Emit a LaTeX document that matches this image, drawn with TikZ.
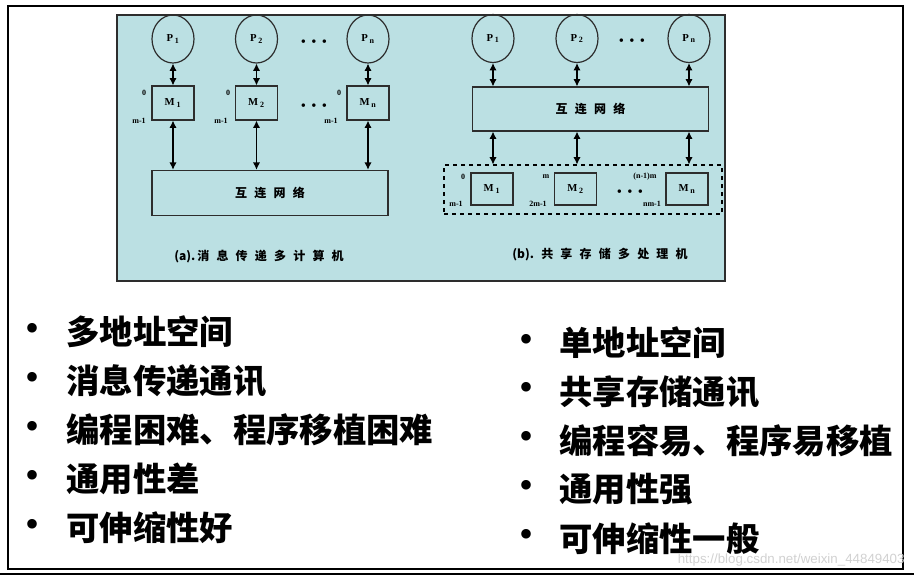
\documentclass[tikz,border=0pt]{standalone}
\usepackage{fontspec}
\setmainfont{Liberation Serif}
\setsansfont{Liberation Sans}
\newfontfamily\cjk{Noto Sans CJK SC}
\usepackage{xcolor}
\usetikzlibrary{arrows,arrows.meta,calc,positioning,shapes.geometric}
\definecolor{panelblue}{RGB}{187,224,227}
\definecolor{boxgray}{RGB}{45,45,45}
\newcommand{\wsp}{\hspace{0.6em}}

\begin{document}
\begin{tikzpicture}[x=0.75pt,y=-0.75pt,>={Latex[length=5.5pt,width=5.5pt]},semithick,
    link/.style={<->,line width=0.9pt,black},
    proc/.style={ellipse,draw=boxgray,line width=0.9pt,minimum width=31.5pt,minimum height=36pt,inner sep=0pt,font=\fontsize{8}{8}\selectfont\bfseries},
    mem/.style={draw=boxgray,line width=0.9pt,minimum width=31.5pt,minimum height=25.5pt,inner sep=0pt,font=\fontsize{8}{8}\selectfont\bfseries},
    net/.style={draw=boxgray,line width=0.9pt,minimum width=177pt,minimum height=34pt,inner sep=0pt,font=\fontsize{9}{9}\selectfont\cjk\bfseries},
    lbl/.style={inner sep=0pt,font=\fontsize{6}{6}\selectfont\bfseries},
    dots/.style={inner sep=0pt,font=\fontsize{11}{11}\selectfont},
    captxt/.style={inner sep=0pt,font=\fontsize{9}{9}\selectfont\cjk\bfseries},
    item/.style={anchor=west,inner sep=0pt,font=\fontsize{25}{28}\selectfont\cjk\bfseries},
    bul/.style={inner sep=0pt,font=\fontsize{30}{30}\selectfont}]
\useasboundingbox (0,0) rectangle (914,576);

% frame and panel
\draw[line width=1.6pt] (8,6) rectangle (903,569);
\draw[line width=0.8pt] (0,574) -- (914,574);
\draw[fill=panelblue,draw=boxgray,line width=1pt] (117,15) rectangle (725,281);

% (a) message passing
\node[proc] (pa1) at (173,39) {P\,\textsubscript{1}};
\node[proc] (pa2) at (256.5,39) {P\,\textsubscript{2}};
\node[proc] (pan) at (368,39) {P\,\textsubscript{n}};
\node[dots] (dpa) at (314,43) {\textbullet\hspace{4pt}\textbullet\hspace{4pt}\textbullet};

\node[mem] (ma1) at (173,103) {M\,\textsubscript{1}};
\node[mem] (ma2) at (256.5,103) {M\,\textsubscript{2}};
\node[mem] (man) at (368,103) {M\,\textsubscript{n}};
\node[dots] (dma) at (314,107) {\textbullet\hspace{4pt}\textbullet\hspace{4pt}\textbullet};

\node[lbl] (za1) at (144,93) {0};
\node[lbl] (ea1) at (139,121) {m-1};
\node[lbl] (za2) at (228,93) {0};
\node[lbl] (ea2) at (221,121) {m-1};
\node[lbl] (zan) at (339,93) {0};
\node[lbl] (ean) at (331,121) {m-1};

\node[net] (neta) at (270,193) {互\wsp 连\wsp 网\wsp 络};
\node[captxt] (capa) at (259,257) {(a).\,消\wsp 息\wsp 传\wsp 递\wsp 多\wsp 计\wsp 算\wsp 机};

\foreach \c in {1,2,n}{
  \draw[link] (pa\c) -- (ma\c);
  \draw[link] (ma\c) -- (ma\c |- neta.north);
}

% (b) shared memory
\node[proc] (pb1) at (493,38.5) {P\,\textsubscript{1}};
\node[proc] (pb2) at (577,38.5) {P\,\textsubscript{2}};
\node[proc] (pbn) at (689,38.5) {P\,\textsubscript{n}};
\node[dots] (dpb) at (632,42) {\textbullet\hspace{4pt}\textbullet\hspace{4pt}\textbullet};

\node[net,minimum height=33pt] (netb) at (590.5,109) {互\wsp 连\wsp 网\wsp 络};
\node[draw=black,dashed,line width=0.8pt,minimum width=208.5pt,minimum height=36.75pt] (smem) at (583,189.5) {};

\node[mem,minimum height=24pt] (mb1) at (492,189) {M\,\textsubscript{1}};
\node[mem,minimum height=24pt] (mb2) at (575.5,189) {M\,\textsubscript{2}};
\node[mem,minimum height=24pt] (mbn) at (687,189) {M\,\textsubscript{n}};
\node[dots] (dmb) at (630,193) {\textbullet\hspace{4pt}\textbullet\hspace{4pt}\textbullet};

\node[lbl] (zb1) at (463,177) {0};
\node[lbl] (eb1) at (456,204) {m-1};
\node[lbl] (zb2) at (546,177) {m};
\node[lbl] (eb2) at (538,204) {2m-1};
\node[lbl] (zbn) at (645,177) {(n-1)m};
\node[lbl] (ebn) at (652,204) {nm-1};

\node[captxt] (capb) at (600,255) {(b).\wsp 共\wsp 享\wsp 存\wsp 储\wsp 多\wsp 处\wsp 理\wsp 机};

\foreach \c in {1,2,n}{
  \draw[link] (pb\c) -- (pb\c |- netb.north);
  \draw[link] (netb.south -| pb\c) -- (pb\c |- smem.north);
}

% comparison lists
\foreach \t [count=\i] in {多地址空间,消息传递通讯,编程困难、程序移植困难,通用性差,可伸缩性好}{
  \pgfmathsetmacro{\yy}{332+49*(\i-1)}
  \node[bul] (bl\i) at (33,\yy) {\textbullet};
  \node[item] (l\i) at (66,\yy) {\t};
}
\foreach \t [count=\i] in {单地址空间,共享存储通讯,编程容易、程序易移植,通用性强,可伸缩性一般}{
  \pgfmathsetmacro{\yy}{343+48.8*(\i-1)}
  \node[bul] (br\i) at (526,\yy) {\textbullet};
  \node[item] (r\i) at (559,\yy) {\t};
}

\node[anchor=east,inner sep=0pt,text=black!18,font=\sffamily\fontsize{10}{10}\selectfont] (wm) at (905,560) {https://blog.csdn.net/weixin\_44849403};
\end{tikzpicture}
\end{document}
